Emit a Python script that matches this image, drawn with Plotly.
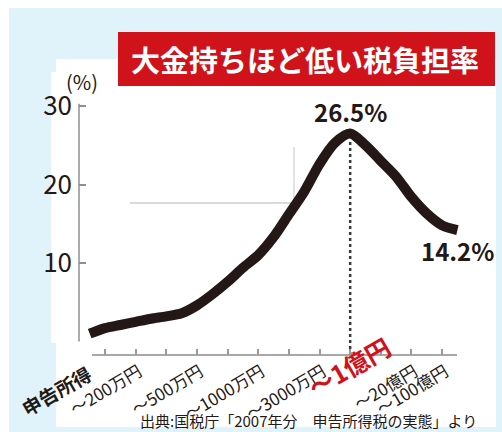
import plotly.graph_objects as go

# ---- data ----
brackets = ["〜70万円", "〜100万円", "〜150万円", "〜200万円", "〜250万円", "〜300万円",
            "〜400万円", "〜500万円", "〜600万円", "〜700万円", "〜800万円", "〜1000万円",
            "〜1200万円", "〜1500万円", "〜2000万円", "〜3000万円", "〜5000万円", "〜1億円",
            "〜2億円", "〜5億円", "〜10億円", "〜20億円", "〜50億円", "〜100億円", "100億円超"]
tax_rate = [1.0, 1.7, 2.1, 2.5, 2.9, 3.2, 3.6, 4.6, 6.0, 7.6, 9.4, 11.0, 13.3, 16.2,
            19.1, 22.6, 25.3, 26.5, 25.0, 23.0, 21.0, 18.4, 16.3, 14.8, 14.2]
label_idx = [3, 7, 11, 15, 21, 23]
y_ticks = [10, 20, 30]
peak_label = "26.5%"
last_label = "14.2%"
title_text = "大金持ちほど低い税負担率"
source_text = "出典:国税庁「2007年分　申告所得税の実態」より"

x_idx = list(range(len(brackets)))
peak_i = tax_rate.index(max(tax_rate))

W, H = 502, 432
ML, MR, MT, MB = 79, 36, 98, 77
PW, PH = W - ML - MR, H - MT - MB


def px(x):
    return (x - ML) / PW


def py(y):
    return (H - MB - y) / PH


FONT = "Noto Sans CJK JP"
BLUE = "#e0f3fb"
RED = "#d0121b"
INK = "#231815"

fig = go.Figure()
fig.add_trace(go.Scatter(
    x=x_idx, y=tax_rate, mode="lines",
    line=dict(color=INK, width=10, shape="spline", smoothing=0.8),
    hovertext=brackets, hoverinfo="text+y", showlegend=False,
))

shapes = [
    dict(type="rect", xref="paper", yref="paper", x0=px(9), x1=px(510), y0=py(8), y1=py(440),
         fillcolor=BLUE, line_width=0, layer="below"),
    dict(type="rect", xref="paper", yref="paper", x0=px(51), x1=px(496), y0=py(72), y1=py(343),
         fillcolor="white", line_width=0, layer="below"),
    dict(type="rect", xref="paper", yref="paper", x0=px(56), x1=px(496), y0=py(59), y1=py(427),
         fillcolor="white", line_width=0, layer="below"),
    dict(type="rect", xref="paper", yref="paper", x0=px(118), x1=px(495), y0=py(32), y1=py(86),
         fillcolor=RED, line_width=0, layer="below"),
    dict(type="line", xref="paper", yref="paper", x0=px(130), x1=px(294), y0=py(203), y1=py(203),
         line=dict(color="#b5b5b5", width=1), layer="below"),
    dict(type="line", xref="paper", yref="paper", x0=px(294), x1=px(294), y0=py(147), y1=py(203),
         line=dict(color="#c8c8c8", width=1), layer="below"),
    dict(type="line", xref="paper", yref="y", x0=0, x1=0, y0=0, y1=30.3,
         line=dict(color="#8f8f8f", width=1.5), layer="below"),
    dict(type="line", xref="paper", yref="paper", x0=px(92), x1=px(457), y0=0, y1=0,
         line=dict(color="#a8a8a8", width=2), layer="below"),
    dict(type="line", xref="x", yref="paper", x0=peak_i, x1=peak_i, y0=0, y1=py(140),
         line=dict(color="#3a3a3a", width=2.5, dash="dot"), layer="below"),
]


def ann(text, x, y, size, color=INK, bold=False, angle=0, xref="paper", yref="paper", **kw):
    d = dict(text=text, xref=xref, yref=yref, x=x, y=y, showarrow=False, textangle=angle,
             xanchor="center", yanchor="middle",
             font=dict(family=FONT, size=size, color=color, weight=700 if bold else 400))
    d.update(kw)
    return d


annotations = [
    ann(title_text, px(305), py(59), 29, color="white", bold=True),
    ann("(%)", px(82), py(81), 20),
    ann(peak_label, peak_i, tax_rate[peak_i], 24, bold=True, xref="x", yref="y", yshift=22),
    ann(last_label, len(tax_rate) - 1, tax_rate[-1], 24, bold=True, xref="x", yref="y", yshift=-20),
    ann("申告所得", px(56), py(390), 19, bold=True, angle=-30),
    ann(brackets[peak_i], px(349), py(366), 25, color=RED, bold=True, angle=-30),
    ann(source_text, px(308), py(420), 15),
]

fig.update_layout(
    width=W, height=H,
    margin=dict(l=ML, r=MR, t=MT, b=MB, pad=0, autoexpand=False),
    paper_bgcolor="white", plot_bgcolor="rgba(0,0,0,0)",
    shapes=shapes, annotations=annotations,
    xaxis=dict(range=[-0.698, 24.56], showgrid=False, zeroline=False, showline=False,
               automargin=False,
               tickmode="array", tickvals=[i + 0.2 for i in label_idx],
               ticktext=[brackets[i] for i in label_idx],
               tickangle=-31, ticks="", ticklabelstandoff=3,
               tickfont=dict(family=FONT, size=17, color=INK),
               minor=dict(tickmode="array", tickvals=list(range(1, 24, 2)), ticks="inside",
                          ticklen=6, tickwidth=1.5, tickcolor="#9a9a9a")),
    yaxis=dict(range=[-1.72, 31.02], showgrid=False, zeroline=False, showline=False,
               automargin=False,
               tickmode="array", tickvals=y_ticks, ticks="inside", ticklen=7, tickwidth=1.5,
               tickcolor="#8f8f8f", tickfont=dict(family=FONT, size=26, color=INK),
               ticklabelstandoff=6),
    hovermode="closest",
)

fig.write_html("out.html", post_script="document.body.style.margin='0';",
               config={"displayModeBar": False})
